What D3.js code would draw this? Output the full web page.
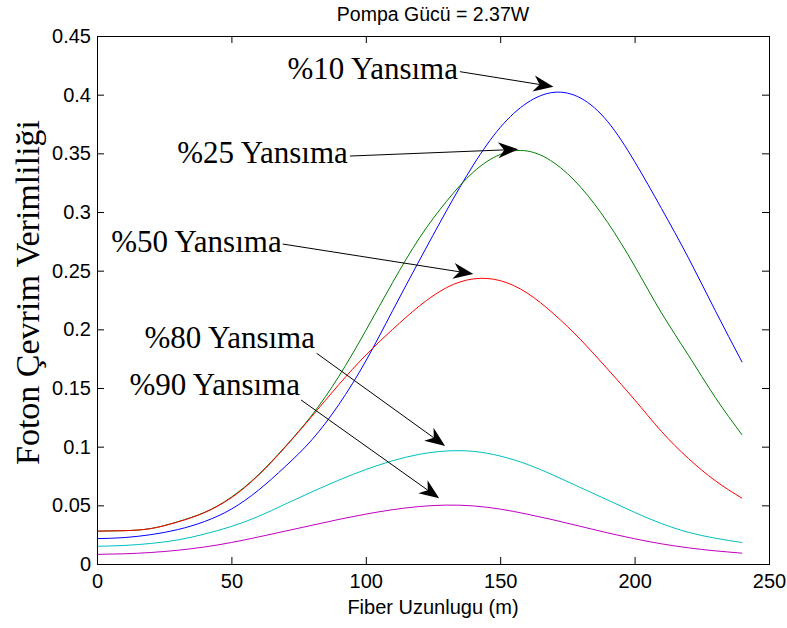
<!DOCTYPE html>
<html>
<head>
<meta charset="utf-8">
<script src="https://cdn.jsdelivr.net/npm/d3@7"></script>
<style>
  body { margin: 0; background: #fff; }
  .tick-label { font-family: "Liberation Sans", Arial, sans-serif; font-size: 20px; fill: #000; }
  .serif { font-family: "Liberation Serif", "DejaVu Serif", serif; fill: #000; }
</style>
</head>
<body>
<div id="chart"></div>
<script>
/* DATA */
// fiber length (m), sampled every 10 m
const fiberLength = [0, 10, 20, 30, 40, 50, 60, 70, 80, 90, 100, 110, 120,
                     130, 140, 150, 160, 170, 180, 190, 200, 210, 220, 230, 240];

// photon conversion efficiency for each reflection level
const refl10 = [0.0216, 0.0225, 0.0250, 0.0293, 0.0362, 0.0468, 0.0628, 0.0830, 0.1060, 0.1360, 0.1730, 0.2160, 0.2590,
                0.3010, 0.3400, 0.3720, 0.3930, 0.4020, 0.3970, 0.3770, 0.3430, 0.3030, 0.2610, 0.2160, 0.1720];
const refl25 = [0.0280, 0.0284, 0.0302, 0.0360, 0.0440, 0.0570, 0.0760, 0.1000, 0.1270, 0.1600, 0.1990, 0.2400, 0.2780,
                0.3090, 0.3340, 0.3490, 0.3520, 0.3420, 0.3210, 0.2910, 0.2540, 0.2140, 0.1780, 0.1420, 0.1100];
const refl50 = [0.0280, 0.0284, 0.0302, 0.0358, 0.0438, 0.0565, 0.0755, 0.0995, 0.1260, 0.1530, 0.1780, 0.2000, 0.2200,
                0.2355, 0.2430, 0.2415, 0.2310, 0.2130, 0.1910, 0.1660, 0.1400, 0.1130, 0.0900, 0.0710, 0.0560];
const refl80 = [0.0151, 0.0158, 0.0175, 0.0205, 0.0255, 0.0320, 0.0405, 0.0510, 0.0615, 0.0715, 0.0805, 0.0880, 0.0935,
                0.0963, 0.0960, 0.0920, 0.0850, 0.0755, 0.0650, 0.0545, 0.0440, 0.0345, 0.0270, 0.0220, 0.0183];
const refl90 = [0.0082, 0.0087, 0.0098, 0.0117, 0.0145, 0.0183, 0.0230, 0.0280, 0.0330, 0.0380, 0.0425, 0.0463, 0.0490,
                0.0502, 0.0495, 0.0468, 0.0425, 0.0375, 0.0320, 0.0265, 0.0215, 0.0172, 0.0138, 0.0112, 0.0092];

const xTicks = [0, 50, 100, 150, 200, 250];
const xTickLabels = ["0", "50", "100", "150", "200", "250"];
const yTicks = [0, 0.05, 0.1, 0.15, 0.2, 0.25, 0.3, 0.35, 0.4, 0.45];
const yTickLabels = ["0", "0.05", "0.1", "0.15", "0.2", "0.25", "0.3", "0.35", "0.4", "0.45"];

// text arrows (data units): label end / baseline, arrow tail, arrow tip
const annoLabels = ["%10 Yansıma", "%25 Yansıma", "%50 Yansıma", "%80 Yansıma", "%90 Yansıma"];
const annoText   = [[134.3, 0.4131], [93.3, 0.3415], [68.7, 0.2663], [81.1, 0.1840], [75.5, 0.1440]];
const annoTail   = [[135.0, 0.4196], [94.1, 0.3477], [69.1, 0.2727], [81.7, 0.1796], [75.9, 0.1398]];
const annoTip    = [[169.8, 0.4068], [156.7, 0.3534], [140.0, 0.2472], [129.5, 0.1006], [127.3, 0.0560]];

const title = "Pompa Gücü = 2.37W";
const xLabel = "Fiber Uzunlugu (m)";
const yLabel = "Foton Çevrim Verimliliği";

/* LAYOUT */
const W = 787, H = 628;
const margin = { top: 36, right: 18, bottom: 64, left: 97 };
const width = W - margin.left - margin.right,
      height = H - margin.top - margin.bottom;

const svg = d3.select("#chart")
  .append("svg")
  .attr("width", W)
  .attr("height", H);

const g = svg.append("g")
  .attr("transform", `translate(${margin.left}, ${margin.top})`);

const xScale = d3.scaleLinear().domain([0, 250]).range([0, width]);
const yScale = d3.scaleLinear().domain([0, 0.45]).range([height, 0]);

// curves
const series = [
  { values: refl10, color: "#0000ff" },
  { values: refl25, color: "#008000" },
  { values: refl50, color: "#ff0000" },
  { values: refl80, color: "#00bfbf" },
  { values: refl90, color: "#bf00bf" }
];

const line = d3.line()
  .x(d => xScale(d[0]))
  .y(d => yScale(d[1]))
  .curve(d3.curveNatural);

g.selectAll(".curve")
  .data(series)
  .join("path")
  .attr("class", "curve")
  .attr("fill", "none")
  .attr("stroke", d => d.color)
  .attr("stroke-width", 1)
  .attr("d", d => line(fiberLength.map((x, i) => [x, d.values[i]])));

// axes with inward ticks on all four sides (matlab box)
const tickLen = 7;
const xAxis = d3.axisBottom(xScale).tickValues(xTicks).tickSize(-tickLen).tickPadding(10)
  .tickFormat((d, i) => xTickLabels[i]);
const yAxis = d3.axisLeft(yScale).tickValues(yTicks).tickSize(-tickLen).tickPadding(6)
  .tickFormat((d, i) => yTickLabels[i]);

g.append("g").attr("transform", `translate(0, ${height})`).call(xAxis);
g.append("g").call(yAxis);
g.append("g").call(d3.axisTop(xScale).tickValues(xTicks).tickSize(-tickLen).tickFormat(""));
g.append("g").attr("transform", `translate(${width}, 0)`)
  .call(d3.axisRight(yScale).tickValues(yTicks).tickSize(-tickLen).tickFormat(""));

g.selectAll(".domain").attr("stroke", "#000").attr("stroke-width", 1);
g.selectAll(".tick line").attr("stroke", "#000");
g.selectAll(".tick text").attr("class", "tick-label").attr("font-family", null).attr("font-size", null);

// title + axis labels
svg.append("text")
  .attr("class", "tick-label")
  .attr("x", margin.left + width / 2)
  .attr("y", 21)
  .attr("text-anchor", "middle")
  .style("font-size", "19.5px")
  .text(title);

svg.append("text")
  .attr("class", "tick-label")
  .attr("x", margin.left + width / 2)
  .attr("y", 614)
  .attr("text-anchor", "middle")
  .text(xLabel);

svg.append("text")
  .attr("class", "serif")
  .attr("transform", `translate(39, 292.5) rotate(-90)`)
  .attr("text-anchor", "middle")
  .style("font-size", "34px")
  .text(yLabel);

// text arrows
const arrows = g.append("g");
annoLabels.forEach((label, i) => {
  const x0 = xScale(annoTail[i][0]), y0 = yScale(annoTail[i][1]);
  const x1 = xScale(annoTip[i][0]), y1 = yScale(annoTip[i][1]);
  const ang = Math.atan2(y1 - y0, x1 - x0);
  const ux = Math.cos(ang), uy = Math.sin(ang);
  const L = 20, hw = 8, notch = 6;

  arrows.append("line")
    .attr("x1", x0).attr("y1", y0)
    .attr("x2", x1 - ux * (L - notch)).attr("y2", y1 - uy * (L - notch))
    .attr("stroke", "#000")
    .attr("stroke-width", 1);

  const pts = [
    [x1, y1],
    [x1 - ux * L - uy * hw, y1 - uy * L + ux * hw],
    [x1 - ux * (L - notch), y1 - uy * (L - notch)],
    [x1 - ux * L + uy * hw, y1 - uy * L - ux * hw]
  ];
  arrows.append("path")
    .attr("d", "M" + pts.map(p => p.join(",")).join("L") + "Z")
    .attr("fill", "#000");

  arrows.append("text")
    .attr("class", "serif")
    .attr("x", xScale(annoText[i][0]))
    .attr("y", yScale(annoText[i][1]))
    .attr("text-anchor", "end")
    .style("font-size", "31px")
    .text(label);
});
</script>
</body>
</html>
